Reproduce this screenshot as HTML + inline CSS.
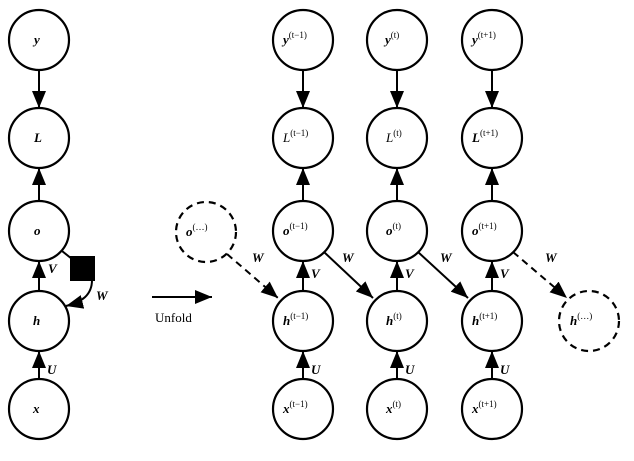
<!DOCTYPE html>
<html><head><meta charset="utf-8"><style>
html,body{margin:0;padding:0;background:#fff;}
svg{display:block}
text{font-family:"Liberation Serif",serif;font-weight:bold;font-style:italic;font-size:13px;fill:#000}
.n{font-style:normal;font-weight:normal}
</style></head><body>
<svg width="634" height="461" viewBox="0 0 634 461" xmlns="http://www.w3.org/2000/svg">
<defs>
<marker id="a" markerWidth="12" markerHeight="10" refX="12" refY="5" orient="auto" markerUnits="userSpaceOnUse">
<path d="M0,0 L12,5 L0,10 z" fill="#000"/></marker>
<marker id="b" markerWidth="17" markerHeight="14" refX="17" refY="7" orient="auto" markerUnits="userSpaceOnUse">
<path d="M0,0 L17,7 L0,14 z" fill="#000"/></marker>
</defs>
<g fill="#fff" stroke="#000" stroke-width="2.2">
<circle cx="39" cy="40" r="30"/><circle cx="39" cy="138" r="30"/><circle cx="39" cy="231" r="30"/><circle cx="39" cy="321" r="30"/><circle cx="39" cy="409" r="30"/>
<circle cx="303" cy="40" r="30"/><circle cx="303" cy="138" r="30"/><circle cx="303" cy="231" r="30"/><circle cx="303" cy="321" r="30"/><circle cx="303" cy="409" r="30"/>
<circle cx="397" cy="40" r="30"/><circle cx="397" cy="138" r="30"/><circle cx="397" cy="231" r="30"/><circle cx="397" cy="321" r="30"/><circle cx="397" cy="409" r="30"/>
<circle cx="492" cy="40" r="30"/><circle cx="492" cy="138" r="30"/><circle cx="492" cy="231" r="30"/><circle cx="492" cy="321" r="30"/><circle cx="492" cy="409" r="30"/>
<circle cx="206" cy="232" r="30" stroke-dasharray="7,5"/><circle cx="589" cy="321" r="30" stroke-dasharray="7,5"/>
</g>
<g stroke="#000" stroke-width="2" marker-end="url(#b)" fill="none">
<line x1="39" y1="70" x2="39" y2="108"/><line x1="39" y1="201" x2="39" y2="168"/><line x1="39" y1="291" x2="39" y2="261"/><line x1="39" y1="379" x2="39" y2="351"/>
<line x1="303" y1="70" x2="303" y2="108"/><line x1="303" y1="201" x2="303" y2="168"/><line x1="303" y1="291" x2="303" y2="261"/><line x1="303" y1="379" x2="303" y2="351"/>
<line x1="397" y1="70" x2="397" y2="108"/><line x1="397" y1="201" x2="397" y2="168"/><line x1="397" y1="291" x2="397" y2="261"/><line x1="397" y1="379" x2="397" y2="351"/>
<line x1="492" y1="70" x2="492" y2="108"/><line x1="492" y1="201" x2="492" y2="168"/><line x1="492" y1="291" x2="492" y2="261"/><line x1="492" y1="379" x2="492" y2="351"/>
<line x1="324" y1="252" x2="373" y2="298"/><line x1="418" y1="252" x2="468" y2="298"/>
<line x1="227" y1="254" x2="278" y2="298" stroke-dasharray="7,5"/><line x1="513" y1="252" x2="567" y2="298" stroke-dasharray="7,5"/>
<line x1="152" y1="297" x2="212" y2="297"/>
<path d="M62,251 L72,259 M92,280 C92,295 82,302 66,306"/>
</g>
<rect x="70" y="256" width="25" height="25" fill="#000"/>
<text x="34" y="44">y</text><text x="34" y="142">L</text><text x="34" y="235">o</text><text x="33" y="325">h</text><text x="33" y="413">x</text>
<text x="48" y="273">V</text><text x="96" y="300">W</text><text x="47" y="374">U</text>
<text x="155" y="322" class="n" font-size="14">Unfold</text>
<text x="186" y="236">o<tspan font-size="9" dy="-6" class="n">(…)</tspan></text>
<text x="570" y="325">h<tspan font-size="9" dy="-6" class="n">(…)</tspan></text>
<text x="283" y="44">y<tspan font-size="9" dy="-6" class="n">(t−1)</tspan></text>
<text x="385" y="44">y<tspan font-size="9" dy="-6" class="n">(t)</tspan></text>
<text x="472" y="44">y<tspan font-size="9" dy="-6" class="n">(t+1)</tspan></text>
<text x="283" y="142" class="n" style="font-style:italic">L<tspan font-size="9" dy="-6" style="font-style:normal">(t−1)</tspan></text>
<text x="386" y="142" class="n" style="font-style:italic">L<tspan font-size="9" dy="-6" style="font-style:normal">(t)</tspan></text>
<text x="472" y="142">L<tspan font-size="9" dy="-6" class="n">(t+1)</tspan></text>
<text x="283" y="235">o<tspan font-size="9" dy="-6" class="n">(t−1)</tspan></text>
<text x="386" y="235">o<tspan font-size="9" dy="-6" class="n">(t)</tspan></text>
<text x="472" y="235">o<tspan font-size="9" dy="-6" class="n">(t+1)</tspan></text>
<text x="283" y="325">h<tspan font-size="9" dy="-6" class="n">(t−1)</tspan></text>
<text x="386" y="325">h<tspan font-size="9" dy="-6" class="n">(t)</tspan></text>
<text x="472" y="325">h<tspan font-size="9" dy="-6" class="n">(t+1)</tspan></text>
<text x="283" y="413">x<tspan font-size="9" dy="-6" class="n">(t−1)</tspan></text>
<text x="386" y="413">x<tspan font-size="9" dy="-6" class="n">(t)</tspan></text>
<text x="472" y="413">x<tspan font-size="9" dy="-6" class="n">(t+1)</tspan></text>
<text x="311" y="278">V</text><text x="405" y="278">V</text><text x="500" y="278">V</text>
<text x="311" y="374">U</text><text x="405" y="374">U</text><text x="500" y="374">U</text>
<text x="252" y="262">W</text><text x="342" y="262">W</text><text x="440" y="262">W</text><text x="545" y="262">W</text>
</svg>
</body></html>
